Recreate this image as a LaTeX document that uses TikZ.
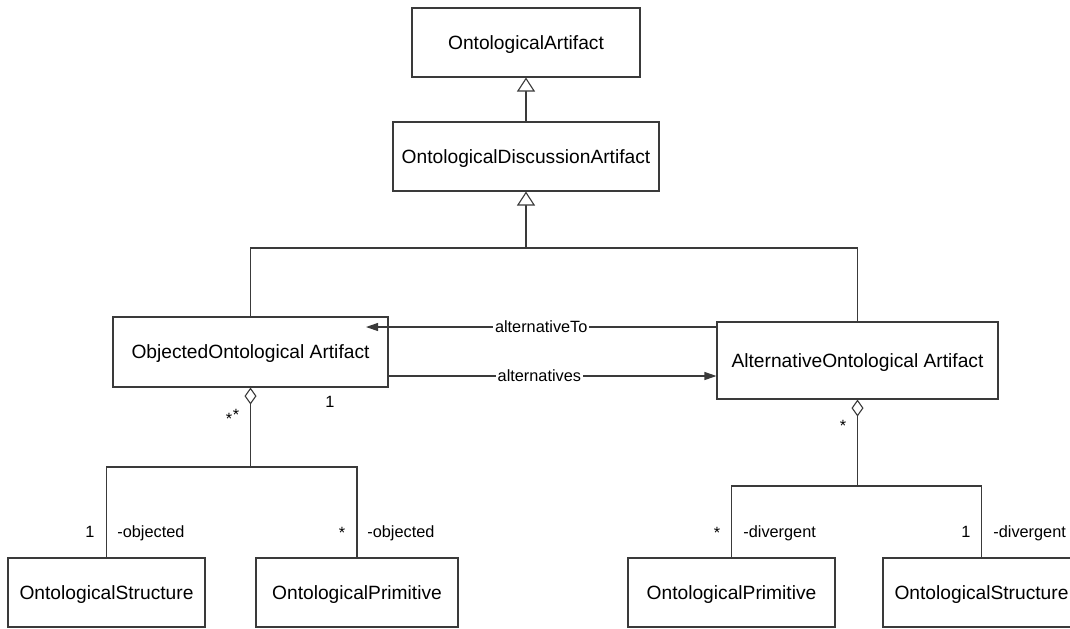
\documentclass[tikz,border=0pt]{standalone}
\usepackage{fontspec}
\setmainfont{Liberation Sans}
\usetikzlibrary{arrows.meta}
\definecolor{umlline}{HTML}{3A3A3A}

\begin{document}
\begin{tikzpicture}[x=0.5pt,y=-0.5pt,
  cls/.style={draw=umlline, line width=0.55pt, rectangle, inner sep=0pt,
    font=\fontsize{9.6}{11}\selectfont, text height=6.9pt, text depth=0pt,
    minimum height=34.5pt},
  conn/.style={draw=umlline, line width=0.55pt},
  stem/.style={draw=umlline, line width=0.9pt},
  gen/.style={conn, -{Triangle[open, length=7pt, width=9pt, fill=white]}},
  agg/.style={stem, -{Diamond[open, length=8.5pt, width=6pt, fill=white, line width=0.55pt]}},
  nav/.style={conn, -{Triangle[length=6pt, width=4pt]}},
  lbl/.style={font=\fontsize{8.15}{10}\selectfont, inner sep=0pt},
  role/.style={lbl, anchor=base west},
  mult/.style={lbl, anchor=base},
  assocname/.style={lbl, fill=white, inner xsep=1pt, inner ysep=0.5pt},
]
\useasboundingbox (0,0) rectangle (1070,628);
\clip (0,0) rectangle (1070,628);

% classes
\node[cls, minimum width=114pt]   (art)   at (526,42.5)   {OntologicalArtifact};
\node[cls, minimum width=133pt]   (disc)  at (526,156.5)  {OntologicalDiscussionArtifact};
\node[cls, minimum width=137.5pt, minimum height=35pt] (obj) at (250.5,352) {ObjectedOntological Artifact};
\node[cls, minimum width=140.5pt, minimum height=38.5pt] (alt) at (857.5,360.5) {AlternativeOntological Artifact};
\node[cls, minimum width=98.5pt]  (strL)  at (106.5,592.5) {OntologicalStructure};
\node[cls, minimum width=101pt]   (primL) at (357,592.5)   {OntologicalPrimitive};
\node[cls, minimum width=103.5pt] (primR) at (731.5,592.5) {OntologicalPrimitive};
\node[cls, minimum width=98.5pt]  (strR)  at (981.5,592.5) {OntologicalStructure};

% junction points
\coordinate (gj) at (526,248);
\coordinate (lj) at (250.5,467);
\coordinate (rj) at (857.5,486);
\coordinate (toTip) at (366,327);
\coordinate (altsY) at (550,376);

% generalisation
\draw[gen] (disc.north) -- (art.south);
\draw[conn] (obj.north) |- (gj) -| (alt.north);
\draw[gen] (gj) -- (disc.south);

% navigable associations
\draw[nav] (alt.west |- toTip) -- node[assocname, pos=0.5] {alternativeTo} (toTip);
\draw[nav] (obj.east |- altsY) -- node[assocname, pos=0.46] {alternatives} (alt.west |- altsY);

% aggregations
\draw[agg] (lj) -- (obj.south);
\draw[conn] (strL.north) |- (lj) -| (primL.north);
\draw[agg] (rj) -- (alt.south);
\draw[conn] (primR.north) |- (rj) -| (strR.north);

% multiplicities and roles
\node[mult] (mA) at (229,424.5) {*};
\node[mult] (mB) at (236,420.5) {*};
\node[mult] (mC) at (330,407) {1};
\node[mult] (mD) at (843,431.5) {*};

\node[mult] (m1) at (90,537) {1};
\node[role] (r1) at (117,537) {-objected};
\node[mult] (m2) at (342,538) {*};
\node[role] (r2) at (367,537) {-objected};
\node[mult] (m3) at (717,538) {*};
\node[role] (r3) at (743,537) {-divergent};
\node[mult] (m4) at (966,537) {1};
\node[role] (r4) at (993,537) {-divergent};
\end{tikzpicture}
\end{document}
